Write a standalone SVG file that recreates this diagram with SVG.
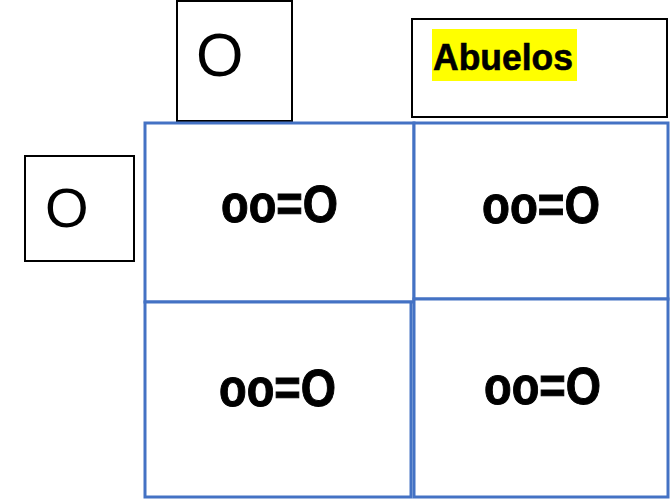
<svg xmlns="http://www.w3.org/2000/svg" width="670" height="503" viewBox="0 0 670 503">
<style>
.box{fill:#fff;stroke:#000;stroke-width:2}
.cell{fill:#fff;stroke:#4472C4;stroke-width:3}
.big{font-family:"Liberation Sans",Arial,sans-serif;fill:#000}
.eq{font-family:"Liberation Sans",Arial,sans-serif;font-weight:bold;font-size:51px;fill:#000;stroke:#000;stroke-width:1}
</style>
<rect width="670" height="503" fill="#fff"/>
<g id="top-o">
<rect class="box" x="177" y="1" width="115" height="120"/>
<text class="big" x="196" y="76" font-size="61">O</text>
</g>
<g id="abuelos">
<rect class="box" x="412" y="19" width="255" height="98"/>
<rect x="432" y="29" width="145" height="52" fill="#ffff00"/>
<text class="big" x="433" y="70" font-size="36" font-weight="bold" stroke="#000" stroke-width="0.6" textLength="140" lengthAdjust="spacingAndGlyphs">Abuelos</text>
</g>
<g id="left-o">
<rect class="box" x="25" y="156" width="109" height="105"/>
<text class="big" x="45" y="227" font-size="56">O</text>
</g>
<g id="cell-tl">
<rect class="cell" x="145" y="123" width="269" height="179"/>
<text class="eq" x="221" y="222" textLength="117" lengthAdjust="spacingAndGlyphs">oo=O</text>
</g>
<g id="cell-tr">
<rect class="cell" x="414" y="123" width="254" height="176"/>
<text class="eq" x="482" y="223" textLength="118" lengthAdjust="spacingAndGlyphs">oo=O</text>
</g>
<g id="cell-bl">
<rect class="cell" x="145" y="302" width="266" height="195"/>
<text class="eq" x="219" y="406" textLength="117" lengthAdjust="spacingAndGlyphs">oo=O</text>
</g>
<g id="cell-br">
<rect class="cell" x="414" y="299" width="254" height="198"/>
<text class="eq" x="484" y="404" textLength="117" lengthAdjust="spacingAndGlyphs">oo=O</text>
</g>
<g id="connectors"></g>
</svg>
